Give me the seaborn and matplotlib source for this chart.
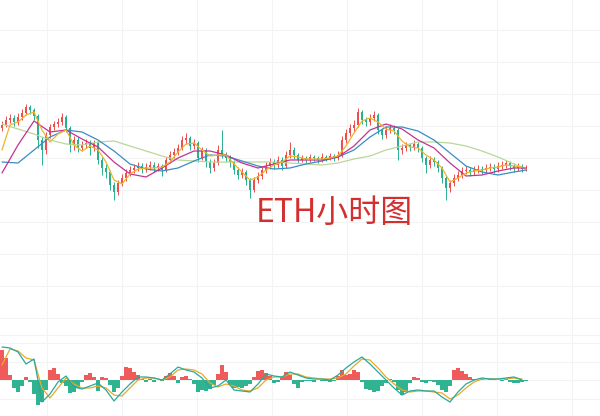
import numpy as np
import pandas as pd
import matplotlib
matplotlib.use("Agg")
import matplotlib.pyplot as plt
import seaborn as sns

# ---------------- data (hourly ETH candles) ----------------
first_open = 2072
close = [2075, 2080, 2082, 2078, 2083, 2087, 2093, 2090, 2084, 2060,
         2050, 2065, 2073, 2076, 2078, 2083, 2072, 2055, 2060, 2052,
         2055, 2057, 2052, 2057, 2040, 2032, 2028, 2015, 2008, 2017,
         2022, 2027, 2030, 2032, 2034, 2031, 2033, 2035, 2032, 2034,
         2030, 2040, 2045, 2048, 2052, 2060, 2062, 2054, 2057, 2042,
         2050, 2038, 2032, 2037, 2050, 2045, 2042, 2038, 2030, 2025,
         2028, 2020, 2010, 2020, 2024, 2030, 2034, 2038, 2035, 2040,
         2034, 2045, 2050, 2045, 2040, 2042, 2040, 2043, 2042, 2040,
         2043, 2042, 2044, 2042, 2045, 2060, 2067, 2072, 2075, 2088,
         2080, 2078, 2082, 2085, 2070, 2065, 2070, 2072, 2070, 2050,
         2052, 2055, 2053, 2056, 2052, 2042, 2035, 2040, 2038, 2032,
         2022, 2012, 2017, 2022, 2025, 2029, 2030, 2028, 2030, 2031,
         2030, 2032, 2033, 2031, 2034, 2035, 2037, 2034, 2032, 2034,
         2031, 2032]
high = [2079, 2084, 2086, 2085, 2087, 2091, 2096, 2095, 2092, 2086,
        2063, 2068, 2076, 2079, 2082, 2087, 2085, 2074, 2064, 2063,
        2059, 2061, 2060, 2060, 2059, 2043, 2036, 2030, 2018, 2020,
        2026, 2031, 2034, 2036, 2038, 2037, 2037, 2039, 2038, 2037,
        2036, 2043, 2049, 2052, 2056, 2064, 2067, 2064, 2061, 2059,
        2053, 2052, 2041, 2041, 2055, 2070, 2048, 2045, 2040, 2033,
        2032, 2030, 2022, 2023, 2028, 2034, 2038, 2042, 2041, 2044,
        2043, 2049, 2058, 2053, 2047, 2045, 2044, 2046, 2045, 2044,
        2047, 2045, 2047, 2046, 2049, 2064, 2071, 2076, 2080, 2092,
        2090, 2083, 2086, 2089, 2087, 2072, 2074, 2076, 2075, 2072,
        2056, 2058, 2057, 2060, 2058, 2054, 2044, 2044, 2043, 2040,
        2034, 2024, 2020, 2026, 2029, 2033, 2034, 2033, 2034, 2035,
        2034, 2036, 2037, 2036, 2038, 2039, 2040, 2039, 2037, 2037,
        2036, 2035]
low = [2069, 2073, 2077, 2074, 2075, 2080, 2085, 2086, 2080, 2052,
       2035, 2046, 2062, 2070, 2073, 2075, 2068, 2048, 2050, 2048,
       2049, 2052, 2045, 2049, 2036, 2025, 2022, 2010, 2000, 2005,
       2014, 2019, 2024, 2027, 2029, 2027, 2028, 2030, 2028, 2029,
       2024, 2028, 2037, 2042, 2045, 2050, 2056, 2050, 2051, 2038,
       2040, 2033, 2027, 2029, 2035, 2042, 2038, 2033, 2026, 2021,
       2022, 2015, 2002, 2008, 2017, 2021, 2027, 2031, 2031, 2032,
       2030, 2032, 2042, 2041, 2037, 2038, 2037, 2038, 2039, 2037,
       2038, 2039, 2040, 2039, 2040, 2043, 2057, 2064, 2068, 2073,
       2076, 2074, 2075, 2079, 2066, 2061, 2062, 2067, 2066, 2040,
       2046, 2049, 2049, 2050, 2048, 2038, 2027, 2032, 2034, 2028,
       2017, 2000, 2008, 2014, 2019, 2022, 2026, 2024, 2025, 2027,
       2026, 2027, 2029, 2027, 2028, 2031, 2032, 2030, 2028, 2029,
       2028, 2029]

# moving averages (yellow sampled every 2 candles, others every 4 candles)
ma_fast = [2050, 2075, 2078, 2085, 2088, 2070, 2058, 2066, 2070, 2055,
           2049, 2054, 2050, 2038, 2020, 2016, 2026, 2031, 2032, 2032,
           2033, 2038, 2048, 2056, 2057, 2050, 2044, 2045, 2045, 2036,
           2028, 2020, 2023, 2030, 2035, 2038, 2044, 2043, 2041, 2041,
           2041, 2042, 2044, 2054, 2067, 2079, 2082, 2078, 2071, 2069,
           2059, 2053, 2052, 2045, 2040, 2032, 2018, 2022, 2027, 2029,
           2030, 2032, 2033, 2035, 2034, 2033]
ma_mid = [2027, 2055, 2079, 2068, 2070, 2061, 2053, 2038, 2026, 2023,
          2032, 2042, 2049, 2049, 2045, 2037, 2032, 2036, 2040, 2040,
          2040, 2043, 2054, 2070, 2076, 2071, 2060, 2052, 2037, 2024,
          2025, 2029, 2032, 2032]
ma_slow = [2038, 2037, 2050, 2063, 2070, 2068, 2060, 2049, 2036, 2031,
           2029, 2032, 2039, 2045, 2044, 2039, 2034, 2031, 2032, 2036,
           2039, 2043, 2050, 2063, 2073, 2073, 2069, 2060, 2047, 2034,
           2028, 2025, 2028, 2030]
ma_long = [2076, 2071, 2066, 2060, 2056, 2055, 2058, 2059, 2054, 2049,
           2044, 2040, 2039, 2038, 2038, 2038, 2038, 2038, 2037, 2036,
           2035, 2037, 2041, 2044, 2050, 2054, 2058, 2058, 2057, 2054,
           2049, 2043, 2036, 2031]

# MACD
macd_hist = [30, 22, 5, -8, -12, -6, 3, -2, -14, -25,
             -22, -10, 10, 12, 6, -3, -6, -13, -12, -8,
             -2, 5, 7, 3, -11, 3, 2, -5, -12, -8,
             4, 13, 12, 8, 5, 1, -2, 1, -2, 0,
             -1, 4, 7, 4, -3, 3, 4, 1, -4, -12,
             -10, -11, -9, -5, 6, 15, 8, -5, -8, -7,
             -8, -6, -4, 3, 9, 10, 7, 4, -3, -2,
             3, 8, 5, -4, -8, -2, -1, -1, -2, 0,
             -1, -1, -2, -1, 4, 10, 5, 6, 10, 8,
             -2, -9, -10, -12, -11, -6, -3, 1, -2, -10,
             -15, -12, -3, 3, 2, -2, -3, -1, -2, -5,
             -10, -12, -6, 10, 12, 9, 6, 3, 1, 0,
             1, 0, 1, 1, 0, -1, 1, -2, -3, -3,
             -2, -1]
dif = [33, 32, 28, 16, 21, -22, -14, -2, 4, -7,
       -9, -6, -3, -10, -21, -12, -4, 3, 3, 2,
       0, 6, 13, 10, 8, 2, -8, -6, 0, -10,
       -11, -12, -4, 6, 4, 3, 8, 5, 2, 1,
       1, 0, 5, 12, 18, 23, 16, 8, 0, -8,
       -15, -11, -10, -11, -11, -17, -22, -12, -4, 0,
       2, 1, 1, 2, 3, 0]
dea = [15, 31, 29, 22, 20, -8, -18, -8, 2, -4,
       -8, -8, -6, -8, -15, -16, -8, 0, 2, 2,
       0, 3, 10, 11, 10, 6, -3, -7, -4, -6,
       -10, -11, -8, 0, 3, 3, 6, 6, 3, 2,
       1, 1, 2, 6, 14, 21, 20, 12, 3, -4,
       -10, -12, -11, -11, -12, -13, -19, -15, -8, -2,
       1, 1, 1, 1, 2, 1]

title_text = "ETH小时图"

# ---------------- tables ----------------
n = len(close)
candles = pd.DataFrame({
    "idx": np.arange(n),
    "open": [first_open] + close[:-1],
    "close": close,
    "high": high,
    "low": low,
})
fast_df = pd.DataFrame({"idx": np.arange(0, 2 * len(ma_fast), 2), "val": ma_fast})
slow_idx = np.r_[np.arange(0, 4 * (len(ma_mid) - 1), 4), n - 1]
mid_df = pd.DataFrame({"idx": slow_idx, "val": ma_mid})
slw_df = pd.DataFrame({"idx": slow_idx, "val": ma_slow})
lng_df = pd.DataFrame({"idx": slow_idx, "val": ma_long})
macd_df = pd.DataFrame({"idx": np.arange(0, 2 * len(dif), 2), "dif": dif, "dea": dea})
hist_df = pd.DataFrame({"idx": np.arange(n), "hist": macd_hist})

# ---------------- style ----------------
sns.set_theme(style="white")
plt.rcParams["font.family"] = ["Noto Sans CJK SC", "DejaVu Sans"]

UP = "#ec4f4f"
DOWN = "#27b092"
GRID = "#f1f3f4"

fig = plt.figure(figsize=(6, 4.16), dpi=100)
fig.patch.set_facecolor("white")
ax = fig.add_axes([0, 81 / 416, 1, 335 / 416])
ax2 = fig.add_axes([0, 0, 1, 81 / 416])

grid_x = [11.25, 30, 48.75, 67.5, 86.25, 105, 123.75, 142.5]
grid_y_top = [2170.5, 2138.5, 2106.5, 2074.5, 2042.5, 2010.5, 1978.5, 1946.5, 1914.5, 1882.5]
grid_y_bot = [37, 18.5, 0, -18.5]

for a, gy in ((ax, grid_y_top), (ax2, grid_y_bot)):
    a.set_facecolor("white")
    a.set_xlim(-0.5, 149.5)
    a.set_xticks(grid_x)
    a.set_yticks(gy)
    a.grid(True, color=GRID, lw=0.8)
    a.set_axisbelow(True)
    a.tick_params(length=0, labelbottom=False, labelleft=False)
    for s in a.spines.values():
        s.set_visible(False)

ax.set_ylim(1865, 2200)
ax2.set_ylim(-36, 45)
ax2.spines["top"].set_visible(True)
ax2.spines["top"].set_color(GRID)
ax2.spines["top"].set_linewidth(0.8)

# ---------------- candles ----------------
cols = np.where(candles["close"] >= candles["open"], UP, DOWN)
ax.vlines(candles["idx"], candles["low"], candles["high"], colors=cols, lw=0.7, zorder=2)
body_lo = np.minimum(candles["open"], candles["close"])
body_h = np.maximum(np.abs(candles["close"] - candles["open"]), 0.8)
ax.bar(candles["idx"], body_h, bottom=body_lo, width=0.55, color=cols, lw=0, zorder=3)

# moving averages
sns.lineplot(data=lng_df, x="idx", y="val", ax=ax, color="#b9d79a", lw=0.9, zorder=4)
sns.lineplot(data=slw_df, x="idx", y="val", ax=ax, color="#3a8cc4", lw=0.9, zorder=4)
sns.lineplot(data=mid_df, x="idx", y="val", ax=ax, color="#c23392", lw=0.9, zorder=4)
sns.lineplot(data=fast_df, x="idx", y="val", ax=ax, color="#efb52a", lw=0.9, zorder=5)

# ---------------- MACD ----------------
hcols = np.where(hist_df["hist"] >= 0, "#ef5b5b", "#2fb391")
ax2.bar(hist_df["idx"], hist_df["hist"], width=0.8, color=hcols, lw=0, zorder=2)
sns.lineplot(data=macd_df, x="idx", y="dea", ax=ax2, color="#e9a92a", lw=0.9, zorder=3)
sns.lineplot(data=macd_df, x="idx", y="dif", ax=ax2, color="#2aa999", lw=0.9, zorder=4)

for a in (ax, ax2):
    a.set_xlabel("")
    a.set_ylabel("")
    a.set_xlim(-0.5, 149.5)

fig.text(0.558, 0.488, title_text, ha="center", va="center",
         fontsize=23, color="#d32f2f")

fig.savefig("out.png", dpi=100, facecolor="white")
